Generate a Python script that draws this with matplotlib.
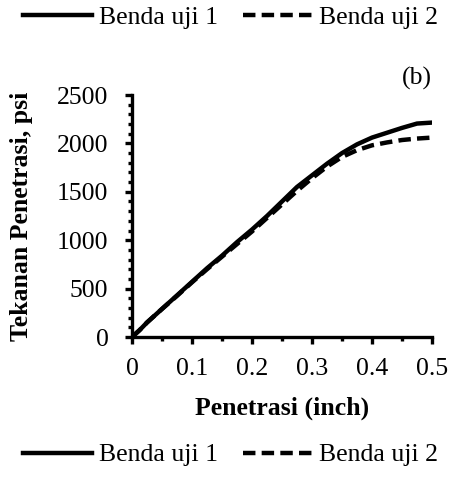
import matplotlib
matplotlib.use("Agg")
import matplotlib.pyplot as plt
from matplotlib.lines import Line2D
from matplotlib.ticker import MultipleLocator

penetrasi = [0, 0.0125, 0.025, 0.05, 0.075, 0.1, 0.125, 0.15, 0.175, 0.2, 0.225,
             0.25, 0.275, 0.3, 0.325, 0.35, 0.375, 0.4, 0.425, 0.45, 0.475, 0.5]
benda_uji_1 = [0, 70, 150, 290, 430, 570, 710, 840, 980, 1110, 1250,
               1400, 1550, 1670, 1790, 1900, 1990, 2060, 2110, 2160, 2205, 2215]
benda_uji_2 = [0, 70, 150, 290, 425, 565, 700, 830, 960, 1090, 1230,
               1370, 1510, 1640, 1760, 1860, 1930, 1980, 2010, 2035, 2050, 2060]
labels = ["Benda uji 1", "Benda uji 2"]
x_ticks = [0, 0.1, 0.2, 0.3, 0.4, 0.5]
x_ticklabels = ["0", "0.1", "0.2", "0.3", "0.4", "0.5"]
y_ticks = [0, 500, 1000, 1500, 2000, 2500]

plt.rcParams['font.family'] = ['Liberation Serif', 'DejaVu Serif']
FS = 18.5
LW = 3.2
DASH = (0, (2.8, 1.4))

fig = plt.figure(figsize=(4.52, 4.91), dpi=100)
ax = fig.add_axes([132/452, 1-337/491, 300/452, 242/491])

ax.plot(penetrasi, benda_uji_1, color='black', lw=LW)
ax.plot(penetrasi, benda_uji_2, color='black', lw=LW, linestyle=DASH)

ax.set_xlim(0, 0.5)
ax.set_ylim(0, 2500)
ax.set_xticks(x_ticks)
ax.set_xticklabels(x_ticklabels)
ax.set_yticks(y_ticks)
ax.xaxis.set_minor_locator(MultipleLocator(0.05))
ax.yaxis.set_minor_locator(MultipleLocator(100))

for s in ['top', 'right']:
    ax.spines[s].set_visible(False)
for s in ['left', 'bottom']:
    ax.spines[s].set_linewidth(2.4)

ax.tick_params(axis='both', which='major', direction='out', length=5, width=2.4,
               labelsize=FS)
ax.tick_params(axis='both', which='minor', direction='out', length=3, width=2.4)
ax.tick_params(axis='y', which='major', pad=12)
ax.tick_params(axis='x', which='major', pad=10)

ax.set_xlabel("Penetrasi (inch)", fontsize=FS, fontweight='bold', labelpad=12)
ax.set_ylabel("Tekanan Penetrasi, psi", fontsize=FS, fontweight='bold', labelpad=17)

ax.text(0.475, 2675, "(b)", fontsize=FS, ha='center', va='center')

handles = [Line2D([], [], color='black', lw=LW),
           Line2D([], [], color='black', lw=LW, linestyle=DASH)]
for yc in [18/491, 455/491]:
    fig.legend(handles, labels, loc='center', bbox_to_anchor=(0.51, 1 - yc),
               ncol=2, frameon=False, fontsize=FS, handlelength=2.7,
               handletextpad=0.25, columnspacing=1.0, borderaxespad=0, borderpad=0)

fig.savefig("out.png", dpi=100)
